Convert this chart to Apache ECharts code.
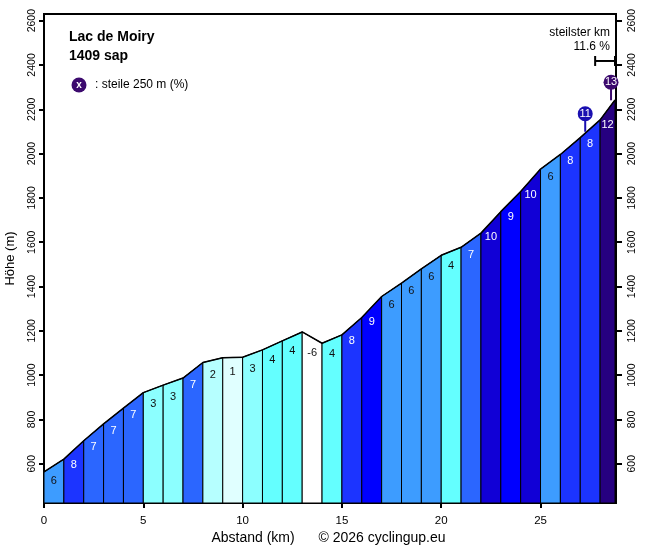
<!DOCTYPE html>
<html><head><meta charset="utf-8">
<script src="https://cdn.jsdelivr.net/npm/echarts@6/dist/echarts.min.js"></script>
<style>html,body{margin:0;padding:0;background:#fff}#c{width:656px;height:550px}</style>
</head><body><div id="c"></div>
<script>
// distances (km) of profile points
const km = [0,1,2,3,4,5,6,7,8,9,10,11,12,13,14,15,16,17,18,19,20,21,22,23,24,25,26,27,28,28.75];
// elevations (m)
const elev = [563,621,704,780,851,921,955,987,1057,1079,1081,1114,1155,1195,1144,1182,1260,1355,1415,1480,1541,1577,1641,1738,1829,1930,1996,2072,2152,2242];
// gradient per segment (%)
const grads = [6,8,7,7,7,3,3,7,2,1,3,4,4,-6,4,8,9,6,6,6,4,7,10,9,10,6,8,8,12];
// steepest 250 m markers
const steepKm = [27.25, 28.55];
const steepElev = [2094, 2236];
const steepLabel = ['11', '13'];
// steepest km
const steepestFrom = 27.75, steepestTo = 28.75, steepestLevel = 2418, steepestText = '11.6 %';
const yTicks = [600,800,1000,1200,1400,1600,1800,2000,2200,2400,2600];
const xTicks = [0,5,10,15,20,25];
const YMIN = 423, YMAX = 2630, XMAX = 28.8;
const title1 = 'Lac de Moiry', title2 = '1409 sap';

function gradColor(g){
  if (g < 0.5) return '#ffffff';
  const map = {1:'#e0ffff',2:'#b6ffff',3:'#8cffff',4:'#64ffff',5:'#50c8ff',6:'#3d9cff',7:'#2b66ff',8:'#1c34ff',9:'#0000ff',10:'#1100d6',11:'#1a0fb0',12:'#260080',13:'#3c0a6e'};
  return map[Math.min(13, Math.round(g))];
}
function markerColor(l){ return gradColor(parseInt(l)); }

const segData = grads.map((g,i)=>[km[i], km[i+1], elev[i], elev[i+1], g]);
const markData = steepKm.map((k,i)=>[k, steepElev[i], steepLabel[i]]);
const FONT = 'Arial, "Liberation Sans", sans-serif';
const plain = v => String(v);

const chart = echarts.init(document.getElementById('c'));
chart.setOption({
  animation:false,
  grid:{left:44, right:40, top:14, bottom:47, outerBoundsMode:'none', containLabel:false, show:true, borderColor:'#000', borderWidth:2, backgroundColor:'transparent'},
  xAxis:{type:'value', min:0, max:XMAX,
    axisLine:{lineStyle:{color:'#000', width:2}},
    axisTick:{customValues:xTicks, length:5, lineStyle:{color:'#000', width:2}},
    axisLabel:{customValues:xTicks, formatter:plain, color:'#000', fontFamily:FONT, fontSize:11.5, margin:12},
    splitLine:{show:false}},
  yAxis:[
    {type:'value', min:YMIN, max:YMAX, position:'left',
     name:'Höhe (m)', nameLocation:'middle', nameGap:27, nameRotate:90,
     nameTextStyle:{color:'#000', fontFamily:FONT, fontSize:13},
     axisLine:{show:true, lineStyle:{color:'#000', width:2}},
     axisTick:{show:true, customValues:yTicks, length:5, lineStyle:{color:'#000', width:2}},
     axisLabel:{customValues:yTicks, formatter:plain, rotate:90, color:'#000', fontFamily:FONT, fontSize:10.5, margin:6},
     splitLine:{show:false}},
    {type:'value', min:YMIN, max:YMAX, position:'right',
     axisLine:{show:true, lineStyle:{color:'#000', width:2}},
     axisTick:{show:true, customValues:yTicks, length:6, lineStyle:{color:'#000', width:2}},
     axisLabel:{customValues:yTicks, formatter:plain, rotate:90, color:'#000', fontFamily:FONT, fontSize:10.5, margin:11},
     splitLine:{show:false}}
  ],
  graphic:[
    {type:'text', left:69, top:30, style:{text:title1, font:'bold 14px '+FONT, fill:'#000'}},
    {type:'text', left:69, top:49, style:{text:title2, font:'bold 14px '+FONT, fill:'#000'}},
    {type:'circle', shape:{cx:79, cy:85, r:7.5}, style:{fill:'#3c0a6e'}},
    {type:'text', x:79, y:85, style:{text:'x', font:'bold 10px '+FONT, fill:'#fff', align:'center', verticalAlign:'middle'}},
    {type:'text', x:95, y:85, style:{text:': steile 250 m (%)', font:'12px '+FONT, fill:'#000', verticalAlign:'middle'}},
    {type:'text', x:610, y:33, style:{text:'steilster km', font:'12px '+FONT, fill:'#000', align:'right', verticalAlign:'middle'}},
    {type:'text', x:610, y:47, style:{text:steepestText, font:'12px '+FONT, fill:'#000', align:'right', verticalAlign:'middle'}},
    {type:'text', x:253, y:538, style:{text:'Abstand (km)', font:'14px '+FONT, fill:'#000', align:'center', verticalAlign:'middle'}},
    {type:'text', x:382, y:538, style:{text:'© 2026 cyclingup.eu', font:'14px '+FONT, fill:'#000', align:'center', verticalAlign:'middle'}}
  ],
  series:[
    {type:'custom', data:segData, encode:{x:[0,1], y:[2,3]}, clip:true, z:2,
     renderItem:function(params, api){
       const x0=api.value(0), x1=api.value(1), y0=api.value(2), y1=api.value(3), g=api.value(4);
       const p0=api.coord([x0,y0]), p1=api.coord([x1,y1]);
       const b0=api.coord([x0,YMIN]), b1=api.coord([x1,YMIN]);
       const mx=(p0[0]+p1[0])/2, my=(p0[1]+p1[1])/2;
       return {type:'group', children:[
         {type:'polygon', shape:{points:[b0,p0,p1,b1]}, style:{fill:gradColor(g), stroke:'#000', lineWidth:1}},
         {type:'text', x:mx, y:my+15, style:{text:String(g), font:'11px '+FONT, fill:(g>=7?'#fff':'#111'), align:'center', verticalAlign:'middle'}}
       ]};
     }},
    {type:'line', data:km.map((k,i)=>[k,elev[i]]), symbol:'none', z:3,
     lineStyle:{color:'#000', width:1.5}},
    {type:'custom', data:markData, encode:{x:0, y:1}, z:4, clip:false,
     renderItem:function(params, api){
       const p=api.coord([api.value(0), api.value(1)]);
       const lab=steepLabel[params.dataIndex];
       const col=markerColor(lab);
       return {type:'group', children:[
         {type:'line', shape:{x1:p[0], y1:p[1]-1, x2:p[0], y2:p[1]-14}, style:{stroke:col, lineWidth:2}},
         {type:'circle', shape:{cx:p[0], cy:p[1]-19, r:7.5}, style:{fill:col}},
         {type:'text', x:p[0], y:p[1]-19, style:{text:lab, font:'11px '+FONT, fill:'#fff', align:'center', verticalAlign:'middle'}}
       ]};
     }},
    {type:'custom', data:[[steepestFrom, steepestTo, steepestLevel]], encode:{x:[0,1], y:2}, z:4, clip:false,
     renderItem:function(params, api){
       const a=api.coord([api.value(0), api.value(2)]), b=api.coord([api.value(1), api.value(2)]);
       return {type:'group', children:[
         {type:'line', shape:{x1:a[0], y1:a[1], x2:b[0], y2:b[1]}, style:{stroke:'#000', lineWidth:2}},
         {type:'line', shape:{x1:a[0], y1:a[1]-5, x2:a[0], y2:a[1]+5}, style:{stroke:'#000', lineWidth:2}},
         {type:'line', shape:{x1:b[0], y1:b[1]-5, x2:b[0], y2:b[1]+5}, style:{stroke:'#000', lineWidth:2}}
       ]};
     }}
  ]
});
</script></body></html>
